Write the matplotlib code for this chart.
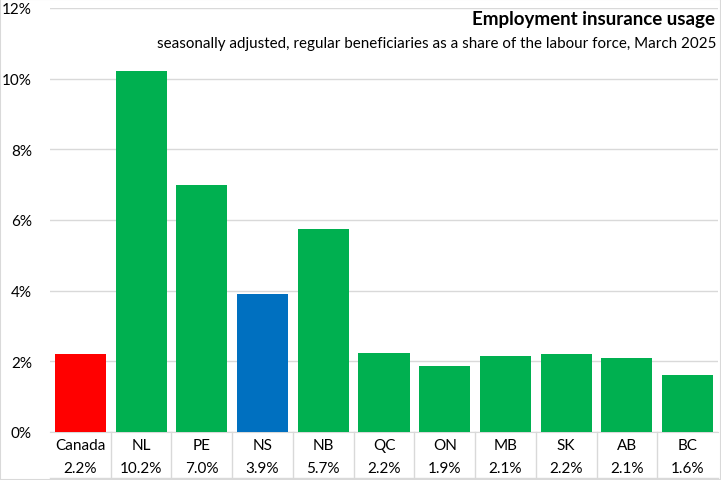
import matplotlib
matplotlib.use('Agg')
import matplotlib.pyplot as plt

regions = ['Canada', 'NL', 'PE', 'NS', 'NB', 'QC', 'ON', 'MB', 'SK', 'AB', 'BC']
usage = [2.2, 10.22, 7.0, 3.91, 5.74, 2.24, 1.86, 2.14, 2.2, 2.1, 1.6]
usage_labels = ['2.2%', '10.2%', '7.0%', '3.9%', '5.7%', '2.2%', '1.9%', '2.1%', '2.2%', '2.1%', '1.6%']
colors = ['#FF0000', '#00B050', '#00B050', '#0070C0'] + ['#00B050'] * 7

plt.rcParams['font.family'] = ['Lato', 'DejaVu Sans']

W, H = 721, 481
fig = plt.figure(figsize=(W / 100, H / 100), dpi=100)
ax = fig.add_axes([50 / W, (H - 433) / H, (718 - 50) / W, (433 - 9) / H])

x = list(range(len(regions)))
ax.bar(x, usage, width=0.84, color=colors, zorder=3)
ax.set_xlim(-0.5, len(regions) - 0.5)
ax.set_ylim(0, 12)
ax.set_yticks(range(0, 13, 2))
ax.set_yticklabels([str(v) + '%' for v in range(0, 13, 2)], fontsize=11)
ax.yaxis.grid(True, color='#D9D9D9', linewidth=1, zorder=0)
ax.tick_params(axis='y', length=0, pad=13)
ax.set_xticks([])
for s in ['top', 'right', 'left']:
    ax.spines[s].set_visible(False)
ax.spines['bottom'].set_color('#D9D9D9')

# data table under the axis
trans = ax.get_xaxis_transform()
for i in x:
    ax.text(i, -0.03, regions[i], transform=trans, ha='center', va='center', fontsize=11, clip_on=False)
    ax.text(i, -0.084, usage_labels[i], transform=trans, ha='center', va='center', fontsize=11, clip_on=False)
for b in [i + 0.5 for i in x[:-1]]:
    ax.plot([b, b], [0, -0.11], transform=trans, color='#D9D9D9', linewidth=1, clip_on=False)
ax.plot([-0.5, len(regions) - 0.5], [-0.108, -0.108], transform=trans, color='#D9D9D9', linewidth=1, clip_on=False)

fig.text(715 / W, 1 - 20 / H, 'Employment insurance usage', ha='right', va='center', fontsize=13.5, fontweight='bold')
fig.text(716 / W, 1 - 44 / H, 'seasonally adjusted, regular beneficiaries as a share of the labour force, March 2025',
         ha='right', va='center', fontsize=10.9)

fig.patches.append(plt.Rectangle((0, 0), 1, 1, transform=fig.transFigure, fill=False, edgecolor='#D9D9D9', linewidth=1.5))
fig.savefig('out.png', dpi=100)
